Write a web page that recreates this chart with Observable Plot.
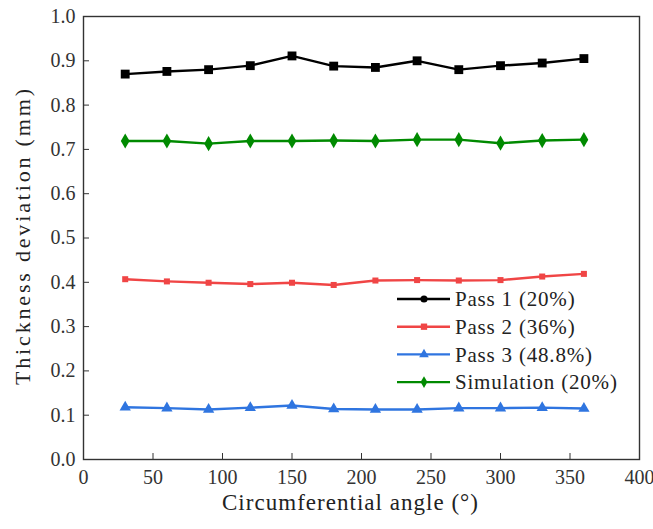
<!DOCTYPE html>
<html>
<head>
<meta charset="utf-8">
<script src="https://cdn.jsdelivr.net/npm/d3@7"></script>
<script src="https://cdn.jsdelivr.net/npm/@observablehq/plot@0.6"></script>
<style>
  html, body { margin: 0; padding: 0; background: #fff; }
  #wrap { position: relative; width: 653px; height: 529px; }
</style>
</head>
<body>
<div id="wrap"></div>
<script>
const angles = [30, 60, 90, 120, 150, 180, 210, 240, 270, 300, 330, 360];
const pass1 = [0.870, 0.876, 0.880, 0.889, 0.911, 0.888, 0.885, 0.900, 0.880, 0.889, 0.895, 0.905];
const pass2 = [0.407, 0.402, 0.399, 0.396, 0.399, 0.394, 0.404, 0.405, 0.404, 0.405, 0.413, 0.419];
const pass3 = [0.118, 0.116, 0.113, 0.117, 0.122, 0.114, 0.113, 0.113, 0.116, 0.116, 0.117, 0.115];
const simulation = [0.719, 0.719, 0.713, 0.719, 0.719, 0.720, 0.719, 0.722, 0.722, 0.714, 0.720, 0.722];
const seriesNames = ["Pass 1 (20%)", "Pass 2 (36%)", "Pass 3 (48.8%)", "Simulation (20%)"];
const seriesValues = [pass1, pass2, pass3, simulation];
const seriesColors = ["#000000", "#f04545", "#2f75e0", "#008a00"];
const seriesSymbols = ["square", "square", "triangle", "diamond"];
const seriesR = [5.0, 3.4, 4.2, 4.6];
const legendSymbols = ["circle", "square", "triangle", "diamond"];
const xTicks = [0, 50, 100, 150, 200, 250, 300, 350, 400];
const yTicks = [0, 0.1, 0.2, 0.3, 0.4, 0.5, 0.6, 0.7, 0.8, 0.9, 1.0];
const xTitle = "Circumferential angle (°)";
const yTitle = "Thickness deviation (mm)";

const rows = [];
seriesNames.forEach((name, i) => {
  angles.forEach((a, j) => rows.push({series: name, angle: a, value: seriesValues[i][j]}));
});

const marks = [Plot.frame({stroke: "#333", strokeWidth: 1.4})];
seriesNames.forEach((name, i) => {
  const d = rows.filter(r => r.series === name);
  marks.push(Plot.line(d, {x: "angle", y: "value", stroke: seriesColors[i], strokeWidth: 2.4}));
  marks.push(Plot.dot(d, {x: "angle", y: "value", fill: seriesColors[i], stroke: "none", symbol: () => seriesSymbols[i], r: seriesR[i]}));
});
marks.push(Plot.axisX({ticks: xTicks, tickSize: -6, tickPadding: 16, fontSize: 20, stroke: "#333", fill: "#333", label: null, tickFormat: d3.format("d")}));
marks.push(Plot.axisY({ticks: yTicks, tickSize: -6, tickPadding: 14, fontSize: 20, stroke: "#333", fill: "#333", label: null, tickFormat: d3.format(".1f")}));

const chart = Plot.plot({
  width: 653,
  height: 529,
  marginLeft: 83,
  marginRight: 14,
  marginTop: 16,
  marginBottom: 70,
  style: {background: "white", overflow: "visible", fontFamily: "'Liberation Serif'"},
  x: {domain: [0, 400]},
  y: {domain: [0, 1.0]},
  marks
});
document.getElementById("wrap").appendChild(chart);

// axis titles
const svg = d3.select(chart);
svg.append("text").attr("x", 350).attr("y", 510).attr("text-anchor", "middle")
  .attr("textLength", 256).attr("lengthAdjust", "spacing")
  .attr("font-size", 23).attr("fill", "#222").text(xTitle);
svg.append("text").attr("transform", "translate(30,237) rotate(-90)").attr("text-anchor", "middle")
  .attr("textLength", 296).attr("lengthAdjust", "spacing")
  .attr("font-size", 22).attr("fill", "#222").text(yTitle);

// legend (inside the plot area, lower right)
const lg = svg.append("g").attr("transform", "translate(397,299)").attr("text-anchor", "start");
seriesNames.forEach((name, i) => {
  const g = lg.append("g").attr("transform", `translate(0,${i * 27.7})`);
  g.append("line").attr("x1", 0).attr("x2", 53).attr("stroke", seriesColors[i]).attr("stroke-width", 2.4);
  const sym = {circle: d3.symbolCircle, square: d3.symbolSquare, triangle: d3.symbolTriangle, diamond: d3.symbolDiamond}[legendSymbols[i]];
  g.append("path").attr("transform", "translate(27,0)").attr("d", d3.symbol(sym, 40)()).attr("fill", seriesColors[i]);
  g.append("text").attr("x", 58).attr("dy", "0.35em").attr("font-size", 21).attr("text-anchor", "start")
    .attr("letter-spacing", "0.8").attr("fill", "#222").text(name);
});
</script>
</body>
</html>
